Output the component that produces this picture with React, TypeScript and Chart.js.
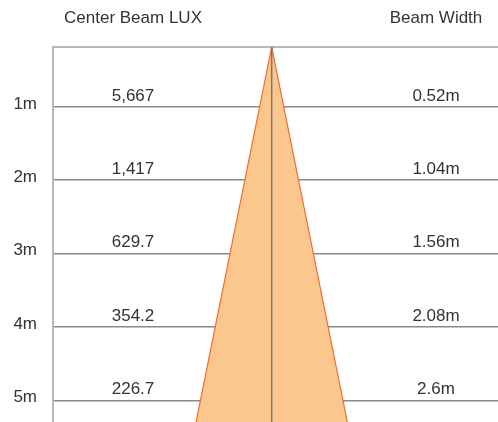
import React, { useEffect, useRef } from "react";
import { Chart, registerables } from "chart.js";

Chart.register(...registerables);

// Distances (m) of the measuring planes
const distances = [1, 2, 3, 4, 5];
const distanceLabels = ["1m", "2m", "3m", "4m", "5m"];
// Center beam illuminance (lux) at each distance
const luxLabels = ["5,667", "1,417", "629.7", "354.2", "226.7"];
// Beam width at each distance
const beamWidthLabels = ["0.52m", "1.04m", "1.56m", "2.08m", "2.6m"];
const headers = ["Center Beam LUX", "Beam Width"];

// Beam cone outline (distance, half-width in m)
const coneDistance = [5.294, 0.185, 5.294];
const coneHalfWidth = [-1.379, 0, 1.379];
// Visible range of the diagram
const distanceMin = 0.185;
const distanceMax = 5.294;
const widthMin = -3.987;
const widthMax = 4.126;

const FONT = "'Liberation Sans', Arial, Helvetica, sans-serif";
const TEXT = "#333333";

const textPlugin = {
  id: "beamText",
  afterDraw(chart: any) {
    const { ctx } = chart;
    const y = chart.scales.y;
    ctx.save();
    ctx.font = `17px ${FONT}`;
    ctx.fillStyle = TEXT;
    ctx.textAlign = "center";
    ctx.textBaseline = "middle";
    const luxX = 133;
    const widthX = 436;
    ctx.fillText(headers[0], luxX, 18.5);
    ctx.fillText(headers[1], widthX, 18.5);
    distances.forEach((d, i) => {
      const py = y.getPixelForValue(d) - 11;
      ctx.fillText(luxLabels[i], luxX, py);
      ctx.fillText(beamWidthLabels[i], widthX, py);
    });
    ctx.restore();
  },
};

export default function App() {
  const ref = useRef<HTMLCanvasElement | null>(null);
  useEffect(() => {
    if (!ref.current) return;
    const chart = new Chart(ref.current, {
      type: "line",
      data: {
        datasets: [
          {
            data: [
              { x: 0, y: distanceMin },
              { x: 0, y: distanceMax },
            ],
            borderColor: "#777777",
            borderWidth: 1.5,
            pointRadius: 0,
            fill: false,
          },
          {
            data: coneDistance.map((d, i) => ({ x: coneHalfWidth[i], y: d })),
            borderColor: "#f26a2a",
            borderWidth: 1.2,
            backgroundColor: "#fbc78c",
            pointRadius: 0,
            fill: { value: distanceMax },
            tension: 0,
          },
        ],
      },
      options: {
        responsive: false,
        animation: false,
        layout: { padding: 0 },
        plugins: {
          legend: { display: false },
          tooltip: { enabled: false },
          title: { display: false },
        },
        scales: {
          x: {
            type: "linear",
            position: "top",
            min: widthMin,
            max: widthMax,
            grid: { display: false, drawTicks: false },
            ticks: { display: false },
            border: { display: true, color: "#b8b8b8", width: 2 },
            afterFit: (s: any) => {
              s.height = 47;
              s.paddingLeft = 0;
              s.paddingRight = 0;
            },
          },
          y: {
            type: "linear",
            reverse: true,
            min: distanceMin,
            max: distanceMax,
            z: 1,
            grid: {
              color: "#8a8a8a",
              lineWidth: 1.5,
              drawTicks: false,
            },
            border: { display: true, color: "#b8b8b8", width: 2 },
            ticks: {
              padding: 16,
              labelOffset: -3,
              color: TEXT,
              font: { family: FONT, size: 17 },
              callback: (v: any) => {
                const i = distances.indexOf(Number(v));
                return i >= 0 ? distanceLabels[i] : "";
              },
            },
            afterBuildTicks: (s: any) => {
              s.ticks = distances.map((v) => ({ value: v }));
            },
            afterFit: (s: any) => {
              s.width = 53;
              s.paddingTop = 0;
              s.paddingBottom = 0;
            },
          },
        },
      },
      plugins: [textPlugin],
    });
    return () => chart.destroy();
  }, []);
  return (
    <div style={{ position: "absolute", left: 0, top: 0, width: 498, height: 422, background: "#fff" }}>
      <canvas ref={ref} width={498} height={422} />
    </div>
  );
}
